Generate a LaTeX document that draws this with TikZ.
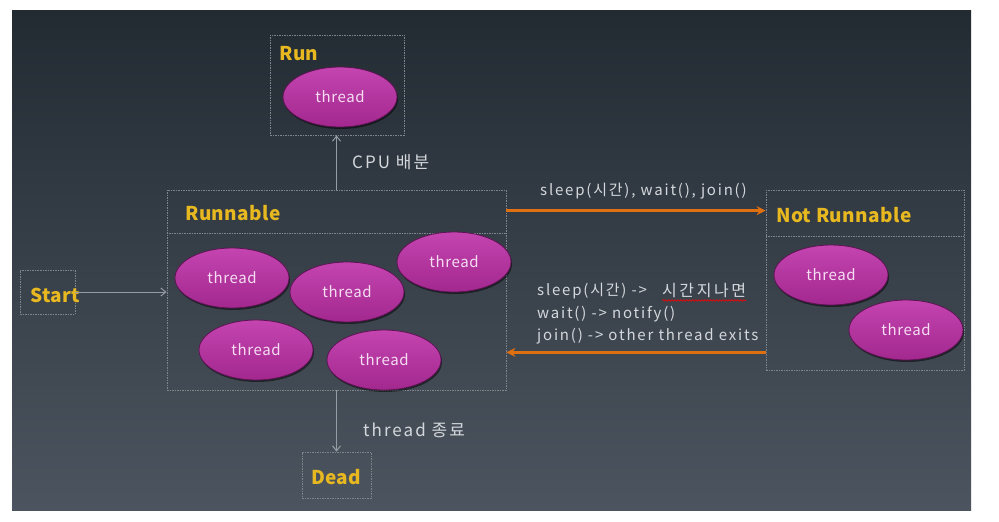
\documentclass[tikz,border=0pt]{standalone}
\usepackage{fontspec}
\setmainfont{Noto Sans CJK KR}
\newfontfamily\notefont[LetterSpace=12]{Noto Sans CJK KR}
\newfontfamily\widekr[LetterSpace=16]{Noto Sans CJK KR}
\newfontfamily\thrfont[LetterSpace=4]{Noto Sans CJK KR}
\newfontfamily\titlefont[LetterSpace=2]{Noto Sans CJK KR}
\usetikzlibrary{shapes.geometric,arrows.meta,shadows,decorations.pathmorphing}
\definecolor{lbl}{HTML}{E8B820}
\definecolor{txt}{HTML}{D4D8DC}
\definecolor{boxln}{HTML}{7E858D}
\definecolor{gline}{HTML}{969CA3}
\definecolor{orng}{HTML}{E0700F}
\definecolor{magt}{HTML}{C444B0}
\definecolor{magb}{HTML}{A2288E}
\definecolor{magd}{HTML}{5E1454}
\definecolor{thtxt}{HTML}{F6DDF2}
\definecolor{bgtop}{HTML}{222A32}
\definecolor{bgbot}{HTML}{4C555F}
\begin{document}
\begin{tikzpicture}[x=1pt,y=-1pt,
  statebox/.style={draw=boxln, dash pattern=on 1.5pt off 1pt, line width=0.8pt, inner sep=0pt, rectangle},
  title/.style={text=lbl, font=\titlefont\fontsize{19}{21}\selectfont\bfseries, anchor=west, inner sep=0pt},
  thr/.style={ellipse, minimum width=114pt, minimum height=60pt, top color=magt, bottom color=magb, draw=magd, line width=0.8pt, text=thtxt, font=\thrfont\fontsize{15}{17}\selectfont, drop shadow={shadow xshift=1pt, shadow yshift=-2pt, fill=black, opacity=0.5}},
  note/.style={text=txt, font=\notefont\fontsize{15}{17}\selectfont, inner sep=0pt, anchor=west},
  bignote/.style={note, font=\notefont\fontsize{17}{19}\selectfont},
  garrow/.style={draw=gline, line width=1pt, -{Straight Barb[length=5pt,width=8pt]}},
  oarrow/.style={draw=orng, line width=2.5pt, -{Stealth[length=9pt,width=9pt]}}]

\useasboundingbox (0,0) rectangle (999,522);
\fill[white] (0,0) rectangle (999,522);
\shade[top color=bgtop, bottom color=bgbot] (12,10) rectangle (971,510);

% state boxes
\node[statebox, minimum width=134pt, minimum height=100pt] (run) at (337,85) {};
\node[statebox, minimum width=339pt, minimum height=200pt] (runnable) at (336.5,290) {};
\node[statebox, minimum width=198pt, minimum height=180pt] (notrun) at (865,280) {};
\node[statebox, minimum width=55pt, minimum height=44pt] (start) at (47.5,292) {};
\node[statebox, minimum width=69pt, minimum height=46pt] (dead) at (336.5,475) {};

% dividers
\draw[boxln, dash pattern=on 1.5pt off 1pt, line width=0.8pt]
  ([yshift=-44pt]runnable.north west) -- ([yshift=-44pt]runnable.north east);
\draw[boxln, dash pattern=on 1.5pt off 1pt, line width=0.8pt]
  ([yshift=-47pt]notrun.north west) -- ([yshift=-47pt]notrun.north east);

% titles
\node[title] (tRun) at (279,54) {Run};
\node[title] (tRunnable) at (185,213) {Runnable};
\node[title] (tNot) at (776,215) {Not Runnable};
\node[title] (tStart) at (30,295) {Start};
\node[title] (tDead) at (311,477) {Dead};

% grey arrows
\draw[garrow] (start.east) -- (start.east -| runnable.west);
\draw[garrow] (runnable.north) -- (runnable.north |- run.south);
\draw[garrow] (runnable.south) -- (runnable.south |- dead.north);

% orange arrows
\draw[oarrow] ([yshift=-21pt]runnable.north east) -- ([yshift=-21pt]runnable.north east -| notrun.west);
\draw[oarrow] ([yshift=18pt]notrun.south west) -- ([yshift=18pt]notrun.south west -| runnable.east);

% threads
\node[thr] (r0) at (340,97) {thread};
\node[thr] (a1) at (232,278) {thread};
\node[thr] (a2) at (347,292) {thread};
\node[thr] (a3) at (454,262) {thread};
\node[thr] (a4) at (256,350) {thread};
\node[thr] (a5) at (384,360) {thread};
\node[thr] (n1) at (831,275) {thread};
\node[thr] (n2) at (906,330) {thread};

% notes
\node[bignote] (cpu) at (352,162) {CPU 배분};
\node[bignote] (fin) at (363,430) {thread 종료};
\node[note] (top) at (540,191) {sleep(시간), wait(), join()};
\node[note] (l1a) at (537,291) {sleep(시간) ->};
\node[note, anchor=west, font=\widekr\fontsize{16}{18}\selectfont] (l1b) at (662,291) {시간지나면};
\node[note] (l2) at (537,314) {wait() -> notify()};
\node[note] (l3) at (537,336) {join() -> other thread exits};
\draw[red, line width=0.6pt, decorate, decoration={snake, amplitude=0.8pt, segment length=3pt}]
  ([yshift=-2pt]l1b.south west) -- ([yshift=-2pt]l1b.south east);
\end{tikzpicture}
\end{document}
